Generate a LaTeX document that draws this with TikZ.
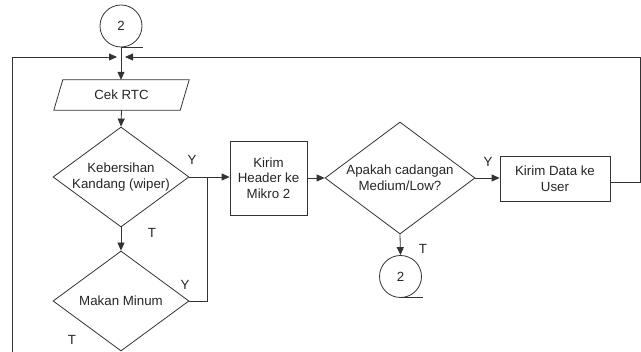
\documentclass[tikz,border=0pt]{standalone}
\usepackage{fontspec}
\setmainfont{Liberation Sans}
\usetikzlibrary{shapes.geometric,arrows.meta,calc}
\begin{document}
\begin{tikzpicture}[x=1pt,y=-1pt,
  line/.style={draw=black!80,line width=0.8pt},
  arr/.style={line,-{Triangle[length=8pt,width=7pt]}},
  dec/.style={diamond,draw=black!80,line width=0.8pt,inner sep=0pt,align=center,text=black!85},
  proc/.style={rectangle,draw=black!80,line width=0.8pt,inner sep=0pt,align=center,text=black!85},
  conn/.style={circle,draw=black!80,line width=0.8pt,minimum size=42pt,inner sep=0pt,text=black!85},
  lbl/.style={text=black!85,inner sep=0pt},
  font=\fontsize{13.3}{15.5}\selectfont]
\useasboundingbox (0,0) rectangle (641,352);
\fill[white] (0,0) rectangle (641,352);

\node[conn] (c1) at (121,26) {2};
\draw[line] (c1.south) -- ++(22,0);

\node[minimum width=126pt, minimum height=30pt, inner sep=0pt, text=black!85] (cek) at (121.5,95) {Cek RTC};
\draw[line] ($(cek.north west)+(4.5,0)$) -- ($(cek.north east)+(4.5,0)$) -- ($(cek.south east)+(-4.5,0)$) -- ($(cek.south west)+(-4.5,0)$) -- cycle;

\node[dec, minimum width=136pt, minimum height=100pt, shape aspect=1.36] (d1) at (121,177) {Kebersihan\\Kandang (wiper)};
\node[dec, minimum width=136pt, minimum height=100pt, shape aspect=1.36] (d2) at (121,301) {Makan Minum};
\node[proc, minimum width=77pt, minimum height=74pt] (kh) at (268.5,178) {Kirim\\Header ke\\Mikro 2};
\node[dec, minimum width=150pt, minimum height=112pt, shape aspect=1.34] (d3) at (400,178) {Apakah cadangan\\Medium/Low?};
\node[proc, minimum width=110pt, minimum height=45pt] (kd) at (555,178.5) {Kirim Data ke\\User};
\node[conn] (c2) at (400.5,276.5) {2};
\draw[line] (c2.south) -- ++(22,0);

\coordinate (jl) at (117,57);
\coordinate (jr) at (125,57);
\coordinate (lb) at (12,360);
\coordinate (rr) at (640,57);
\coordinate (jm) at ($(d1.east)+(18,0)$);

\draw[arr] (c1.south) -- (c1.south |- cek.north);
\draw[arr] (lb) |- (jl);
\draw[arr] ([yshift=-3.5pt]kd.east) -| (rr) -- (jr);
\draw[arr] (cek.south) -- (d1.north);
\draw[arr] (d1.south) -- (d2.north);
\draw[arr] (d1.east) -- (d1.east -| kh.west);
\draw[line] (d2.east) -| (jm);
\draw[arr] (kh.east) -- (kh.east -| d3.west);
\draw[arr] (d3.east) -- (d3.east -| kd.west);
\draw[arr] (d3.south) -- (c2.north);

\node[lbl] (y1) at (192,160) {Y};
\node[lbl] (t1) at (152,233) {T};
\node[lbl] (y2) at (185,285) {Y};
\node[lbl] (t2) at (72,340) {T};
\node[lbl] (y3) at (488,162) {Y};
\node[lbl] (t3) at (423,249) {T};
\end{tikzpicture}
\end{document}
